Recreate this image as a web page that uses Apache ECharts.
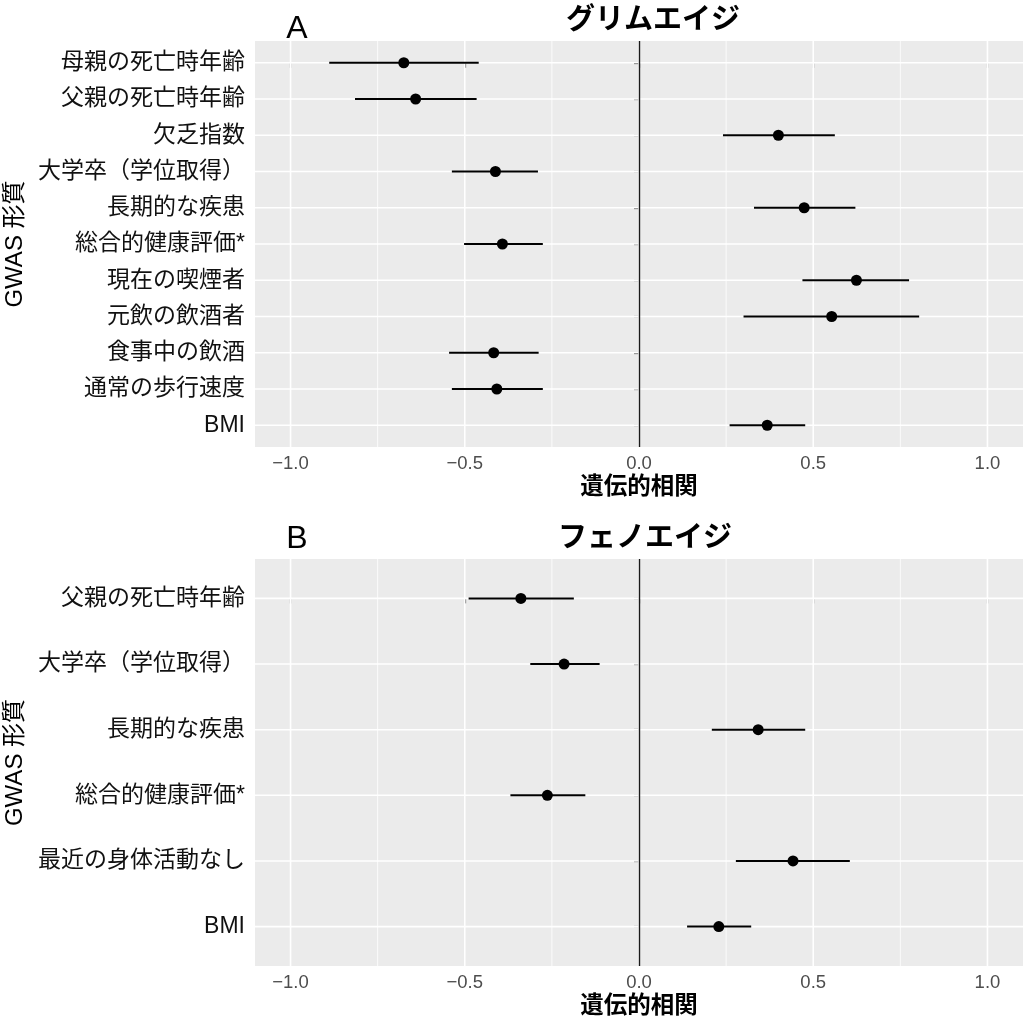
<!DOCTYPE html>
<html>
<head>
<meta charset="utf-8">
<script src="https://cdn.jsdelivr.net/npm/echarts@6/dist/echarts.min.js"></script>
<style>
  html, body { margin: 0; padding: 0; background: #fff; }
  #chart { width: 1024px; height: 1020px; }
</style>
</head>
<body>
<div id="chart"></div>
<script>
// panel A: グリムエイジ
const gaLabels = ['母親の死亡時年齢', '父親の死亡時年齢', '欠乏指数', '大学卒（学位取得）', '長期的な疾患',
  '総合的健康評価*', '現在の喫煙者', '元飲の飲酒者', '食事中の飲酒', '通常の歩行速度', 'BMI']
const gaEst = [-0.675, -0.641, 0.400, -0.412, 0.474, -0.392, 0.624, 0.553, -0.417, -0.408, 0.368]
const gaLo = [-0.889, -0.815, 0.241, -0.537, 0.330, -0.502, 0.469, 0.300, -0.545, -0.537, 0.260]
const gaHi = [-0.460, -0.466, 0.562, -0.290, 0.621, -0.276, 0.775, 0.804, -0.288, -0.276, 0.477]

// panel B: フェノエイジ
const paLabels = ['父親の死亡時年齢', '大学卒（学位取得）', '長期的な疾患', '総合的健康評価*', '最近の身体活動なし', 'BMI']
const paEst = [-0.339, -0.215, 0.342, -0.263, 0.442, 0.229]
const paLo = [-0.489, -0.312, 0.209, -0.369, 0.278, 0.138]
const paHi = [-0.187, -0.113, 0.477, -0.154, 0.605, 0.322]

const xMajor = [-1, -0.5, 0, 0.5, 1]
const xMinor = [-0.75, -0.25, 0.25, 0.75]
const X_MIN = -1.102
const X_MAX = 1.102

const LATIN = '"Liberation Sans", "Noto Sans CJK JP", sans-serif'

const fmtTick = (v) => (v < 0 ? '\u2212' : '') + Math.abs(v).toFixed(1)

const chart = echarts.init(document.getElementById('chart'), null, { renderer: 'canvas' })

const panels = [
  { labels: gaLabels, est: gaEst, lo: gaLo, hi: gaHi, top: 41, height: 406 },
  { labels: paLabels, est: paEst, lo: paLo, hi: paHi, top: 559, height: 407 },
]

const grid = panels.map((p) => ({
  left: 255, right: 1, top: p.top, height: p.height,
  containLabel: false, outerBoundsMode: 'none',
  show: true, backgroundColor: '#ebebeb', borderWidth: 0,
}))

const xAxis = panels.map((p, i) => ({
  type: 'value', gridIndex: i, min: X_MIN, max: X_MAX,
  axisLine: { show: false },
  splitLine: { show: false },
  axisTick: { show: true, customValues: xMajor, length: 5, lineStyle: { color: '#333', width: 1.2 } },
  axisLabel: {
    customValues: xMajor, formatter: fmtTick, margin: 8,
    fontSize: 18.5, color: '#4d4d4d', fontFamily: LATIN,
  },
  name: '遺伝的相関', nameLocation: 'middle', nameGap: 29,
  nameTextStyle: { fontSize: 23.5, fontWeight: 'bold', color: '#000', fontFamily: LATIN },
}))

const yAxis = panels.map((p, i) => {
  const idx = p.labels.map((_, k) => k)
  return {
    type: 'value', gridIndex: i, inverse: true,
    min: -0.6, max: p.labels.length - 0.4,
    axisLine: { show: false },
    splitLine: { show: false },
    axisTick: { show: true, customValues: idx, length: 5, lineStyle: { color: '#333', width: 1.2 } },
    axisLabel: {
      customValues: idx, formatter: (v) => p.labels[Math.round(v)], margin: 10,
      fontSize: 23, color: '#111', fontFamily: LATIN,
    },
    name: 'GWAS 形質', nameLocation: 'middle', nameGap: 228,
    nameTextStyle: { fontSize: 24, color: '#000', fontFamily: LATIN },
  }
})

const series = []
panels.forEach((p, i) => {
  // vertical grid lines (minor + major)
  const vLines = (ticks, width) => ({
    type: 'custom', xAxisIndex: i, yAxisIndex: i, silent: true, z: 1,
    data: ticks.map((v) => [v, 0]),
    renderItem: (params, api) => {
      const cs = params.coordSys
      const x = api.coord([api.value(0), 0])[0]
      return {
        type: 'line',
        shape: { x1: x, y1: cs.y, x2: x, y2: cs.y + cs.height },
        style: { stroke: '#ffffff', lineWidth: width },
      }
    },
  })
  series.push(vLines(xMinor, 0.8), vLines(xMajor, 1.6))

  // horizontal grid lines at each category
  series.push({
    type: 'custom', xAxisIndex: i, yAxisIndex: i, silent: true, z: 1,
    data: p.labels.map((_, k) => [0, k]),
    renderItem: (params, api) => {
      const cs = params.coordSys
      const y = api.coord([0, api.value(1)])[1]
      return {
        type: 'line',
        shape: { x1: cs.x, y1: y, x2: cs.x + cs.width, y2: y },
        style: { stroke: '#ffffff', lineWidth: 1.6 },
      }
    },
  })

  // confidence intervals
  series.push({
    type: 'custom', xAxisIndex: i, yAxisIndex: i, silent: true, z: 3,
    data: p.lo.map((lo, k) => [lo, p.hi[k], k]),
    renderItem: (params, api) => {
      const a = api.coord([api.value(0), api.value(2)])
      const b = api.coord([api.value(1), api.value(2)])
      return {
        type: 'line',
        shape: { x1: a[0], y1: a[1], x2: b[0], y2: b[1] },
        style: { stroke: '#000', lineWidth: 2 },
      }
    },
  })

  // point estimates + zero line
  series.push({
    type: 'scatter', xAxisIndex: i, yAxisIndex: i, z: 4, silent: true,
    symbolSize: 11, itemStyle: { color: '#000', opacity: 1 },
    data: p.est.map((v, k) => [v, k]),
    markLine: {
      silent: true, symbol: 'none', label: { show: false },
      lineStyle: { color: '#1a1a1a', width: 1.4, type: 'solid' },
      data: [{ xAxis: 0 }],
    },
  })
})

chart.setOption({
  animation: false,
  title: [
    { text: 'A', left: 292, top: 8, textAlign: 'center',
      textStyle: { fontSize: 32, fontWeight: 'normal', color: '#000', fontFamily: LATIN } },
    { text: 'グリムエイジ', left: 648, top: 1, textAlign: 'center',
      textStyle: { fontSize: 29, fontWeight: 'bold', color: '#000', fontFamily: LATIN } },
    { text: 'B', left: 292, top: 518, textAlign: 'center',
      textStyle: { fontSize: 32, fontWeight: 'normal', color: '#000', fontFamily: LATIN } },
    { text: 'フェノエイジ', left: 640, top: 519, textAlign: 'center',
      textStyle: { fontSize: 29, fontWeight: 'bold', color: '#000', fontFamily: LATIN } },
  ],
  grid, xAxis, yAxis, series,
})
</script>
</body>
</html>
